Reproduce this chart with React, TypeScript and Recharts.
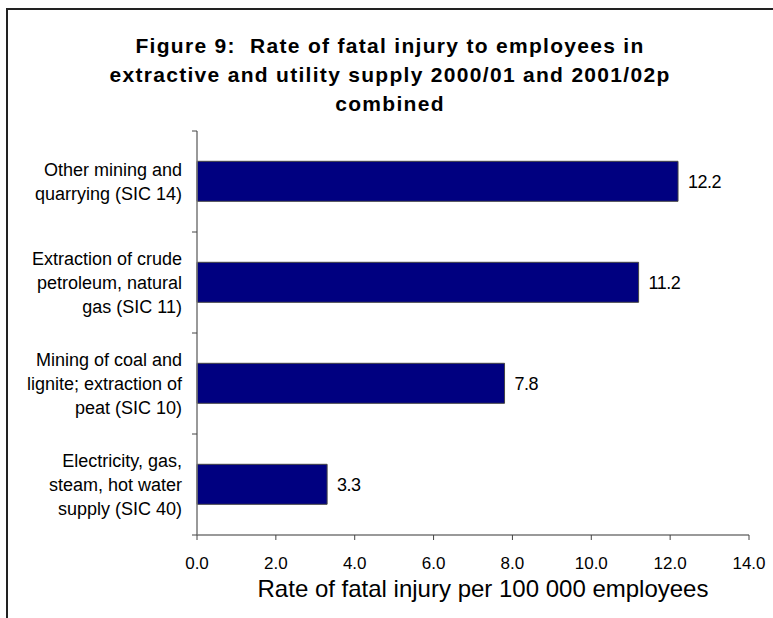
import React from 'react';
import { BarChart, Bar, XAxis, YAxis, LabelList } from 'recharts';

const categories = [
  'Other mining and\nquarrying (SIC 14)',
  'Extraction of crude\npetroleum, natural\ngas (SIC 11)',
  'Mining of coal and\nlignite; extraction of\npeat (SIC 10)',
  'Electricity, gas,\nsteam, hot water\nsupply (SIC 40)',
];
const rates = [12.2, 11.2, 7.8, 3.3];
const xTicks = [0, 2, 4, 6, 8, 10, 12, 14];
const titleLines = [
  'Figure 9:  Rate of fatal injury to employees in',
  'extractive and utility supply 2000/01 and 2001/02p',
  'combined',
];

const data = categories.map((name, i) => ({ name, rate: rates[i] }));

const FONT = '"Liberation Sans", Arial, sans-serif';
const Y_TICK_SIZE = 6;
const Y_TICK_MARGIN = 2;

// category labels, plus the small tick marks Excel puts on band boundaries
const CategoryTick = ({ x, y, payload, index, visibleTicksCount }: any) => {
  const lines: string[] = String(payload.value).split('\n');
  const lh = 24;
  const start = y - ((lines.length - 1) * lh) / 2;
  const axisX = x + Y_TICK_SIZE + Y_TICK_MARGIN;
  const half = payload.offset || 0;
  const last = index === (visibleTicksCount ?? categories.length) - 1;
  return (
    <g>
      <line x1={axisX - 5} x2={axisX} y1={y - half} y2={y - half} stroke="#444" />
      {last && <line x1={axisX - 5} x2={axisX} y1={y + half} y2={y + half} stroke="#444" />}
      <text x={x - 7} y={start} textAnchor="end" fontFamily={FONT} fontSize={18} fill="#000">
        {lines.map((l, i) => (
          <tspan key={i} x={x - 7} y={start + i * lh} dy="0.35em">{l}</tspan>
        ))}
      </text>
    </g>
  );
};

export default function App() {
  return (
    <div style={{ position: 'absolute', left: 0, top: 0, width: 773, height: 618, background: '#fff', overflow: 'hidden' }}>
      <div style={{ position: 'absolute', left: 6, top: 8, width: 800, height: 700, borderLeft: '2px solid #222', borderTop: '2px solid #222' }} />
      <div style={{ position: 'absolute', left: 0, top: 31, width: 780, textAlign: 'center', fontFamily: FONT, fontWeight: 'bold', fontSize: 21, letterSpacing: 1.3, lineHeight: '29px', color: '#000' }}>
        {titleLines.map((t, i) => (
          <div key={i} style={{ whiteSpace: 'pre' }}>{t}</div>
        ))}
      </div>
      <div style={{ position: 'absolute', left: 0, top: 0 }}>
        <BarChart
          width={773}
          height={618}
          data={data}
          layout="vertical"
          barCategoryGap="30%"
          margin={{ top: 131, right: 24, bottom: 13, left: 0 }}
        >
          <XAxis
            type="number"
            domain={[0, 14]}
            ticks={xTicks}
            tickFormatter={(v: number) => v.toFixed(1)}
            interval={0}
            height={70}
            tickSize={5}
            axisLine={{ stroke: '#777', strokeWidth: 1.5 }}
            tickLine={{ stroke: '#444' }}
            tick={{ fill: '#000', fontSize: 17, fontFamily: FONT }}
            tickMargin={17}
            label={{ value: 'Rate of fatal injury per 100 000 employees', position: 'insideBottom', offset: 8, fill: '#000', fontSize: 24, fontFamily: FONT, dx: 10 }}
          />
          <YAxis
            type="category"
            dataKey="name"
            width={197}
            tickSize={Y_TICK_SIZE}
            tickMargin={Y_TICK_MARGIN}
            axisLine={{ stroke: '#777', strokeWidth: 1.5 }}
            tickLine={false}
            tick={<CategoryTick />}
            interval={0}
          />
          <Bar dataKey="rate" fill="#000080" stroke="#444" strokeWidth={1} isAnimationActive={false}>
            <LabelList dataKey="rate" position="right" offset={10} fill="#000" fontSize={18} fontFamily={FONT} letterSpacing={-0.5} formatter={(v: any) => Number(v).toFixed(1)} />
          </Bar>
        </BarChart>
      </div>
    </div>
  );
}
